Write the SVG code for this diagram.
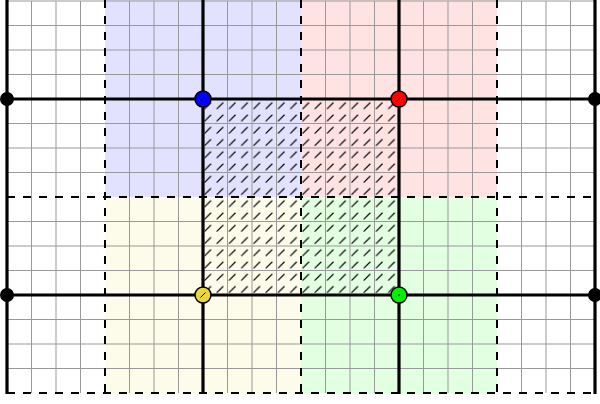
<svg xmlns="http://www.w3.org/2000/svg" width="600" height="404" viewBox="0 0 600 404">
<defs>
<style>
.grid line{stroke:#999;stroke-width:1}
.dash{stroke:#000;stroke-width:2;stroke-dasharray:8 8;fill:none}
.thick{stroke:#000;stroke-width:3.2;fill:none}
.bdot{fill:#000}
.cdot{stroke:#000;stroke-width:1.5}
</style>
<pattern id="hatch" patternUnits="userSpaceOnUse" x="203" y="99" width="12.25" height="12.25">
<line x1="1.5" y1="10" x2="8" y2="3.5" stroke="#000" stroke-width="1.2"/>
</pattern>
</defs>
<rect width="600" height="404" fill="#fff"/>
<g id="regions">
<rect x="105" y="0" width="196" height="197" fill="#e2e2ff"/>
<rect x="301" y="0" width="196" height="197" fill="#ffe2e2"/>
<rect x="105" y="197" width="196" height="196" fill="#fdfbe9"/>
<rect x="301" y="197" width="196" height="196" fill="#e2ffe2"/>
</g>
<g class="grid" id="grid">
<line x1="7" y1="1" x2="595" y2="1"/>
<line x1="7" y1="25.5" x2="595" y2="25.5"/>
<line x1="7" y1="50" x2="595" y2="50"/>
<line x1="7" y1="74.5" x2="595" y2="74.5"/>
<line x1="7" y1="123.5" x2="595" y2="123.5"/>
<line x1="7" y1="148" x2="595" y2="148"/>
<line x1="7" y1="172.5" x2="595" y2="172.5"/>
<line x1="7" y1="221.5" x2="595" y2="221.5"/>
<line x1="7" y1="246" x2="595" y2="246"/>
<line x1="7" y1="270.5" x2="595" y2="270.5"/>
<line x1="7" y1="319.5" x2="595" y2="319.5"/>
<line x1="7" y1="344" x2="595" y2="344"/>
<line x1="7" y1="368.5" x2="595" y2="368.5"/>
<line x1="31.5" y1="1" x2="31.5" y2="393"/>
<line x1="56" y1="1" x2="56" y2="393"/>
<line x1="80.5" y1="1" x2="80.5" y2="393"/>
<line x1="129.5" y1="1" x2="129.5" y2="393"/>
<line x1="154" y1="1" x2="154" y2="393"/>
<line x1="178.5" y1="1" x2="178.5" y2="393"/>
<line x1="227.5" y1="1" x2="227.5" y2="393"/>
<line x1="252" y1="1" x2="252" y2="393"/>
<line x1="276.5" y1="1" x2="276.5" y2="393"/>
<line x1="325.5" y1="1" x2="325.5" y2="393"/>
<line x1="350" y1="1" x2="350" y2="393"/>
<line x1="374.5" y1="1" x2="374.5" y2="393"/>
<line x1="423.5" y1="1" x2="423.5" y2="393"/>
<line x1="448" y1="1" x2="448" y2="393"/>
<line x1="472.5" y1="1" x2="472.5" y2="393"/>
<line x1="521.5" y1="1" x2="521.5" y2="393"/>
<line x1="546" y1="1" x2="546" y2="393"/>
<line x1="570.5" y1="1" x2="570.5" y2="393"/>
</g>
<rect id="hatched" x="203" y="99" width="196" height="196" fill="url(#hatch)"/>
<g id="connectors">
<g class="dash">
<line x1="105" y1="0" x2="105" y2="393"/>
<line x1="301" y1="0" x2="301" y2="393"/>
<line x1="497" y1="0" x2="497" y2="393"/>
<line x1="7" y1="197" x2="595" y2="197"/>
<line x1="7" y1="393" x2="595" y2="393"/>
</g>
<g class="thick">
<line x1="7" y1="0" x2="7" y2="394"/>
<line x1="203" y1="0" x2="203" y2="394"/>
<line x1="399" y1="0" x2="399" y2="394"/>
<line x1="595" y1="0" x2="595" y2="394"/>
<line x1="7" y1="99" x2="595" y2="99"/>
<line x1="7" y1="295" x2="595" y2="295"/>
</g>
</g>
<g id="n-left-top"><circle class="bdot" cx="7" cy="99" r="7"/></g>
<g id="n-right-top"><circle class="bdot" cx="595" cy="99" r="7"/></g>
<g id="n-left-bottom"><circle class="bdot" cx="7" cy="295" r="7"/></g>
<g id="n-right-bottom"><circle class="bdot" cx="595" cy="295" r="7"/></g>
<g id="n-blue"><circle class="cdot" cx="203" cy="99" r="8" fill="#0000ff"/><line x1="201" y1="101" x2="205" y2="97" stroke="#000" stroke-width="1"/></g>
<g id="n-red"><circle class="cdot" cx="399" cy="99" r="8" fill="#ff0000"/><line x1="396.5" y1="101.5" x2="401.5" y2="96.5" stroke="#000" stroke-width="1"/></g>
<g id="n-yellow"><circle class="cdot" cx="203" cy="295" r="8" fill="#e8d63a"/><line x1="200.5" y1="297.5" x2="205.5" y2="292.5" stroke="#000" stroke-width="1"/></g>
<g id="n-green"><circle class="cdot" cx="399" cy="295" r="8" fill="#00f000"/><circle cx="399" cy="295" r="0.8" fill="#000"/></g>
</svg>
